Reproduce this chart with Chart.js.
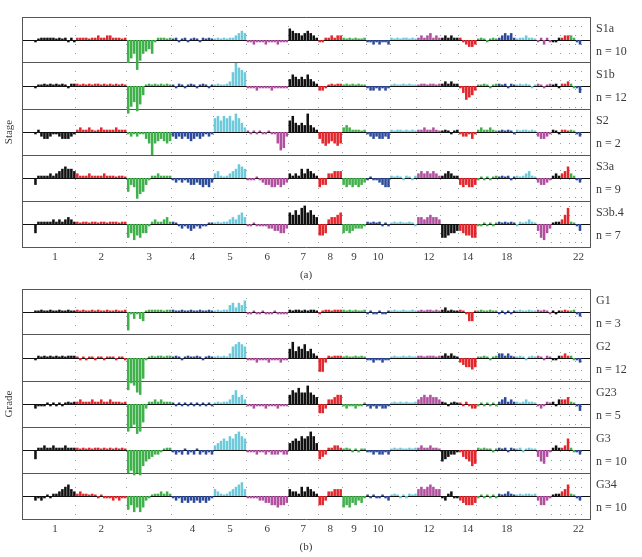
<!DOCTYPE html>
<html>
<head>
<meta charset="utf-8">
<script src="https://cdn.jsdelivr.net/npm/chart.js@4.4.0/dist/chart.umd.min.js"></script>
<style>
    body { margin: 0; background: #fff; }
    #wrap { position: relative; width: 642px; height: 557px; }
    canvas { position: absolute; left: 0; }
    #stageChart { top: 0; }
    #gradeChart { top: 272px; }
</style>
</head>
<body>
<div id="wrap">
    <canvas id="stageChart" width="642" height="285"></canvas>
    <canvas id="gradeChart" width="642" height="285"></canvas>
</div>
<script>
const chromosomes = ['1','2','3','4','5','6','7','8','9','10','11','12','13','14','15','16','17','18','19','20','21','22'];
const axisLabels = ['1','2','3','4','5','6','7','8','9','10','','12','','14','','18','','','','','','22'];
const chromColors = ['#111111', '#e3252c', '#40b04b', '#2d4a9b', '#6ecadb', '#b0509f'];

const stageNames = ['S1a', 'S1b', 'S2', 'S3a', 'S3b.4'];
const stageCounts = [10, 12, 2, 9, 7];
const gradeNames = ['G1', 'G2', 'G23', 'G3', 'G34'];
const gradeCounts = [3, 12, 5, 10, 10];

// one array of binned values per chromosome, for each group
const s1a = [
    [-1,0,1,1,1,1,1,0,1,0,1,-1,1,-1],
    [1,1,1,1,0,1,1,2,1,1,2,2,1,1,1,0,1],
    [-10,-8,-6,-13,-9,-6,-5,-4,-6,-1,1,1,1,0,1],
    [0,1,-1,0,1,-1,0,1,0,-1,1,0,1,0],
    [0,1,0,1,0,1,1,2,3,4,3],
    [-1,-1,-2,-1,-1,-1,-2,-1,-1,-1,-2,-1,-1,-1],
    [5,4,3,3,2,3,4,3,2,1],
    [-1,-1,1,1,2,1,2,2],
    [1,0,1,0,1,0,0,1],
    [-1,-1,-2,-1,-2,-1,-1,-2],
    [1,0,1,0,1,1,0,1,0],
    [1,2,1,2,3,1,2,1],
    [1,2,1,2,1,1],
    [1,-1,-2,-3,-3,-2],
    [0,1,0,-1,0,1,0],
    [1,2,3,2,3,1],
    [0,1,1,2,1,1,0],
    [-1,1,-2,1,-1],
    [-1,-1,1],
    [1,2,2],
    [2,1],
    [-1,-2]
];
const s1b = [
    [-1,0,0,1,0,1,0,1,0,1,0,-1,1,1],
    [1,0,1,0,1,0,1,1,0,1,0,1,0,1,0,1,0],
    [-12,-9,-7,-11,-8,-4,0,1,0,1,0,1,0,1,0],
    [0,-1,1,0,-1,0,1,0,-1,0,1,0,-1,0],
    [0,1,0,0,1,2,6,10,8,7,6],
    [-1,-1,-1,-2,-1,-1,-1,-1,-2,-1,-1,-1,-1,-1],
    [3,5,4,3,4,3,5,3,2,1],
    [-2,-2,-1,0,1,0,1,1],
    [0,1,0,1,0,1,0,0],
    [-1,-2,-2,-1,-2,-1,-2,-1],
    [0,1,0,0,1,0,1,0,0],
    [0,1,1,0,1,1,0,1],
    [1,2,1,2,1,1],
    [-1,-3,-6,-5,-4,-2],
    [0,0,1,0,-1,0,1],
    [1,0,1,-1,1,0],
    [0,1,0,1,0,-1,0],
    [1,0,-1,0,1],
    [0,1,-1],
    [1,1,2],
    [1,-1],
    [-1,-3]
];
const s2 = [
    [-1,1,-2,-3,-3,-2,-1,-1,-2,-3,-3,-3,-2,-1],
    [1,2,1,1,2,1,0,1,2,1,1,1,1,2,1,1,1],
    [-1,-2,-1,-2,-1,-1,-3,-5,-10,-5,-4,-3,-4,-5,-4],
    [-2,-3,-2,-3,-2,-3,-4,-3,-2,-3,-2,-1,-2,-1],
    [6,7,5,7,6,7,5,8,6,4,2],
    [0,-1,0,-1,0,-1,-1,0,-1,-1,-5,-8,-7,-2],
    [5,7,4,3,4,3,8,3,2,1],
    [-3,-5,-6,-5,-4,-5,-6,-5],
    [2,3,2,1,1,1,0,1],
    [-1,-2,-3,-2,-3,-3,-2,-3],
    [1,0,1,1,0,1,0,1,0],
    [1,1,2,1,1,2,1,0],
    [0,1,0,-1,0,1],
    [-1,-2,-2,-1,-3,-1],
    [1,2,1,1,2,1,0],
    [0,1,0,1,0,-1],
    [1,0,1,1,0,1,0],
    [-2,-3,-3,-2,-1],
    [1,0,-1],
    [1,1,0],
    [1,0],
    [-1,-2]
];
const s3a = [
    [-3,1,1,1,1,2,1,2,3,4,5,4,4,3],
    [2,1,1,1,2,1,1,1,1,2,1,1,1,0,1,1,0],
    [-6,-3,-4,-9,-7,-6,-3,-1,1,1,2,1,1,1,1],
    [-1,-2,-1,-2,-1,-2,-3,-3,-2,-3,-4,-3,-4,-2],
    [2,3,1,0,1,2,3,4,6,5,4],
    [-1,-1,-1,0,-1,-2,-3,-3,-4,-4,-3,-4,-3,-2],
    [2,1,2,1,4,2,4,3,2,1],
    [-4,-3,-3,2,2,3,3,3],
    [-3,-4,-3,-4,-3,-4,-3,-2],
    [-1,0,-1,-1,-2,-3,-4,-4],
    [1,0,1,0,-1,1,0,-1,1],
    [2,3,2,3,2,3,2,1],
    [1,2,3,2,1,1],
    [-3,-4,-3,-4,-4,-3],
    [-1,0,-1,0,-1,0,1],
    [0,1,0,1,-1,0],
    [1,0,1,2,3,1,0],
    [-2,-3,-3,-2,-1],
    [1,2,1],
    [2,3,5],
    [2,1],
    [-1,-2]
];
const s3b4 = [
    [-4,1,1,1,1,1,2,1,2,1,2,3,2,1],
    [1,0,1,1,0,1,1,0,1,1,0,1,1,1,0,1,1],
    [-6,-4,-7,-5,-6,-4,-4,-1,1,2,1,1,2,3,1],
    [1,0,-1,-2,-1,-2,-3,-2,-1,-2,-1,-1,0,0],
    [0,1,0,1,1,2,3,2,4,5,3],
    [-1,-1,0,-1,-1,-1,-1,-2,-2,-3,-3,-4,-4,-2],
    [5,4,6,4,7,8,5,6,4,3],
    [-5,-5,-4,2,3,3,4,5],
    [-4,-3,-4,-3,-2,-2,-2,-1],
    [1,0,1,0,1,-1,0,-1],
    [0,1,0,1,0,0,1,0,-1],
    [3,3,2,3,4,3,3,2],
    [-6,-6,-5,-4,-4,-3],
    [-3,-4,-5,-5,-6,-6],
    [-1,-1,0,-1,0,-1,0],
    [1,0,1,0,1,0],
    [-1,1,0,1,2,1,0],
    [-3,-6,-7,-4,-2],
    [0,1,1],
    [2,4,7],
    [1,0],
    [-1,-3]
];

const g1 = [
    [0,0,1,0,0,1,0,0,1,0,0,1,0,0],
    [1,0,1,0,0,1,0,1,0,0,1,0,0,1,0,0,1],
    [-8,-1,-3,-1,-3,-4,0,1,1,1,1,1,0,1,1],
    [1,0,0,1,0,0,1,0,0,1,0,0,1,0],
    [0,1,0,1,1,3,4,2,4,3,5],
    [-1,-1,0,-1,-1,0,-1,-1,-1,0,-1,-1,-1,-1],
    [1,0,1,1,0,1,0,1,1,0],
    [-1,0,1,1,0,1,1,1],
    [1,0,1,0,1,0,0,1],
    [-1,0,-1,-1,0,-1,-1,0],
    [0,1,0,0,1,0,0,1,0],
    [0,1,0,1,1,0,1,0],
    [1,2,0,1,0,0],
    [1,0,-1,-4,-4,0],
    [0,1,0,0,1,0,0],
    [-1,0,-1,0,-1,0],
    [0,1,0,0,1,0,0],
    [1,0,1,0,-1],
    [0,-1,0],
    [0,1,0],
    [0,1],
    [-1,-2]
];
const g2 = [
    [-1,1,0,1,0,1,0,1,0,1,0,1,1,1],
    [0,-1,0,-1,0,0,-1,0,0,-1,0,0,0,-1,0,0,-1],
    [-14,-11,-12,-15,-16,-9,-1,0,1,0,1,1,0,1,1],
    [0,1,0,-1,0,1,0,0,1,0,-1,0,1,0],
    [0,1,0,1,0,2,5,6,7,6,5],
    [-1,-1,-1,-2,-1,-1,-1,-2,-1,-1,-1,-2,-1,-1],
    [4,7,3,5,4,6,3,4,2,1],
    [-6,-6,-2,1,0,1,1,1],
    [0,1,0,0,1,0,1,0],
    [-1,-1,-2,-1,-1,-2,-1,-1],
    [0,1,0,0,1,0,1,0,0],
    [1,1,0,1,1,1,0,1],
    [1,2,1,2,1,0],
    [-2,-3,-4,-4,-5,-4],
    [0,0,1,0,-1,0,1],
    [2,2,1,2,1,0],
    [0,1,0,-1,0,1,0],
    [1,0,-1,1,0],
    [-1,-1,1],
    [1,2,1],
    [1,-1],
    [-1,-2]
];
const g23 = [
    [-2,-1,-1,-1,0,-1,0,-1,0,-1,0,1,0,1],
    [1,2,1,1,1,2,1,1,2,1,1,2,1,1,1,0,1],
    [-12,-10,-9,-13,-12,-8,-2,1,1,2,1,2,1,1,1],
    [0,-1,0,-1,0,-1,0,-1,0,-1,0,-1,0,-1],
    [0,1,0,1,1,2,4,6,3,4,2],
    [-1,-1,-2,-1,-1,-1,-2,-1,-1,-1,-2,-1,-1,-1],
    [4,6,5,7,5,5,8,5,4,3],
    [-4,-4,-2,2,2,3,4,4],
    [-1,-2,-1,-1,-2,-1,-1,0],
    [-1,-2,-1,-2,-1,-2,-2,-1],
    [0,1,0,1,0,1,0,0,1],
    [2,3,4,3,4,3,3,2],
    [1,0,-1,0,1,0],
    [0,-1,1,-1,-2,-2],
    [-1,0,-1,0,-1,0,-1],
    [1,2,3,1,2,1],
    [1,0,1,2,1,1,0],
    [-1,-2,-1,1,0],
    [1,-1,2],
    [2,2,3],
    [1,0],
    [-1,-3]
];
const g3 = [
    [-4,1,1,2,1,1,2,1,1,1,2,1,1,1],
    [1,0,1,0,1,0,1,1,0,1,0,1,0,1,0,1,0],
    [-10,-9,-11,-10,-11,-7,-5,-4,-3,-2,-2,-1,0,1,1],
    [-1,-2,-1,-2,0,-2,-1,-2,0,-2,-1,-2,-1,-2],
    [2,3,4,5,4,6,5,7,8,6,5],
    [-1,-1,-1,-2,-1,-1,-2,-1,-2,-2,-2,-1,-2,-2],
    [3,4,5,4,6,5,6,8,6,3],
    [-4,-3,-2,1,1,2,2,1],
    [0,1,0,-1,0,-1,0,0],
    [-1,-1,-2,-1,-2,-2,-1,-2],
    [0,1,0,1,0,0,1,0,1],
    [1,2,1,1,2,1,1,0],
    [-5,-4,-3,-2,-2,-1],
    [-1,-3,-4,-5,-7,-6],
    [1,0,1,0,0,-1,0],
    [1,0,1,-1,1,0],
    [0,1,-1,0,1,0,0],
    [-3,-5,-6,-3,-1],
    [1,2,1],
    [1,2,5],
    [1,-1],
    [-1,-2]
];
const g34 = [
    [-2,-1,-2,-1,0,-1,1,1,2,3,4,5,3,2],
    [1,2,1,1,0,1,0,-1,0,-1,-1,-1,-2,-1,-2,-1,-1],
    [-6,-4,-7,-5,-7,-5,-2,-1,0,1,1,2,1,2,1],
    [-1,-2,-1,-3,-2,-3,-2,-3,-2,-3,-2,-3,-2,-1],
    [3,2,1,0,1,2,3,4,5,6,3],
    [-1,-1,-1,-1,-2,-2,-3,-3,-4,-4,-5,-4,-4,-3],
    [3,2,2,1,4,2,4,3,2,1],
    [-4,-4,-2,2,2,3,3,3],
    [-5,-4,-5,-3,-4,-2,-3,-1],
    [0,-1,0,-1,-1,0,-1,-2],
    [0,1,0,-1,0,-1,1,0,1],
    [3,4,3,4,5,4,3,3],
    [-1,-2,1,2,-1,-1],
    [-2,-3,-4,-4,-4,-3],
    [-1,0,-1,0,-1,0,-1],
    [1,0,1,2,1,0],
    [0,1,0,1,1,0,1],
    [-2,-4,-4,-2,-1],
    [0,1,1],
    [2,3,5],
    [1,0],
    [-1,-2]
];

// genome layout: every chromosome keeps the same number of bins in every row
const binsPerChrom = s1a.map(c => c.length);
const chromStart = [];
let total = 0;
binsPerChrom.forEach(n => { chromStart.push(total); total += n; });
const totalBins = total;

const textColor = '#3a3a3a';
const serif = "'Liberation Serif', 'DejaVu Serif', serif";

// each row of a panel sits on its own baseline, rows are 20 units tall
const rowBase = (k) => 90 - 20 * k;

function rowDataset(row, k) {
    const base = rowBase(k);
    const data = [];
    const colors = [];
    row.forEach((values, c) => {
        values.forEach((v, i) => {
            data.push({ x: chromStart[c] + i + 0.5, y: [base, base + v] });
            colors.push(chromColors[c % chromColors.length]);
        });
    });
    return {
        data: data,
        backgroundColor: colors,
        borderWidth: 0,
        minBarLength: 1.5,
        barPercentage: 0.85,
        categoryPercentage: 1,
        grouped: false
    };
}

function makePanel(canvasId, rows, names, counts, axisTitle, panelLabel) {
    const boundaries = chromStart.slice(1).concat([totalBins]);
    const centers = chromStart.map((s, c) => s + binsPerChrom[c] / 2);
    const xTicks = boundaries.map(v => ({ value: v, label: '', line: true }))
        .concat(centers.map((v, c) => ({ value: v, label: axisLabels[c], line: false })));

    const sideTicks = [];
    names.forEach((name, k) => {
        sideTicks.push({ value: rowBase(k) + 5, label: name });
        sideTicks.push({ value: rowBase(k) - 5, label: 'n = ' + counts[k] });
    });

    return new Chart(document.getElementById(canvasId), {
        type: 'bar',
        data: { datasets: rows.map(rowDataset) },
        options: {
            responsive: false,
            animation: false,
            devicePixelRatio: 1,
            layout: { padding: { top: 17, left: 0, right: 0, bottom: 0 } },
            plugins: { legend: { display: false }, tooltip: { enabled: false } },
            scales: {
                x: {
                    type: 'linear',
                    min: -4,
                    max: totalBins + 2.84,
                    offset: false,
                    afterBuildTicks: (scale) => { scale.ticks = xTicks.map(t => ({ value: t.value })); },
                    afterFit: (scale) => { scale.height = 38; },
                    ticks: {
                        autoSkip: false,
                        maxRotation: 0,
                        padding: 4,
                        color: textColor,
                        font: { family: serif, size: 11 },
                        callback: (value, index) => xTicks[index].label
                    },
                    grid: {
                        offset: false,
                        drawTicks: false,
                        lineWidth: 1,
                        color: (ctx) => (xTicks[ctx.index] && xTicks[ctx.index].line) ? '#9c9c9c' : 'rgba(0,0,0,0)'
                    },
                    border: { display: false, dash: [1, 8] },
                    title: {
                        display: true,
                        text: panelLabel,
                        color: textColor,
                        font: { family: serif, size: 11 },
                        padding: { top: 0, bottom: 3 }
                    }
                },
                y: {
                    min: 0,
                    max: 100,
                    afterFit: (scale) => { scale.width = 22; },
                    ticks: { display: false, stepSize: 10 },
                    grid: {
                        drawTicks: false,
                        lineWidth: 1,
                        color: (ctx) => ctx.tick.value % 20 === 0 ? '#555555' : '#111111'
                    },
                    border: { display: true, color: '#555555' },
                    title: {
                        display: true,
                        text: axisTitle,
                        color: textColor,
                        font: { family: serif, size: 11 },
                        padding: { top: 3, bottom: 0 }
                    }
                },
                y2: {
                    display: true,
                    position: 'right',
                    min: 0,
                    max: 100,
                    afterBuildTicks: (scale) => { scale.ticks = sideTicks.map(t => ({ value: t.value })); },
                    afterFit: (scale) => { scale.width = 52; },
                    ticks: {
                        padding: 6,
                        color: textColor,
                        font: { family: serif, size: 12 },
                        callback: (value, index) => sideTicks[index].label
                    },
                    grid: { drawOnChartArea: false, drawTicks: false },
                    border: { display: true, color: '#555555' }
                }
            }
        }
    });
}

makePanel('stageChart', [s1a, s1b, s2, s3a, s3b4], stageNames, stageCounts, 'Stage', '(a)');
makePanel('gradeChart', [g1, g2, g23, g3, g34], gradeNames, gradeCounts, 'Grade', '(b)');
</script>
</body>
</html>
